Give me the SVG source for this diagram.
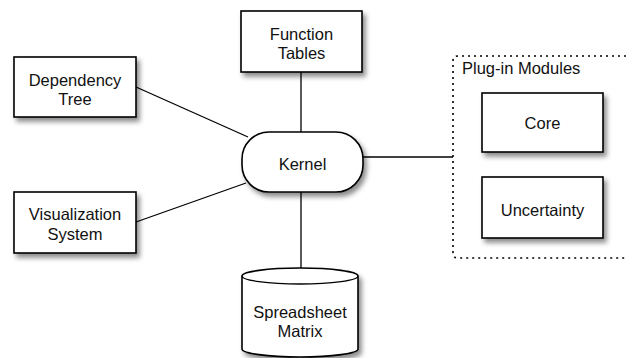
<svg xmlns="http://www.w3.org/2000/svg" width="626" height="358" viewBox="0 0 626 358">
  <defs>
    <filter id="shadow" x="-20%" y="-20%" width="150%" height="160%">
      <feDropShadow dx="3" dy="4" stdDeviation="2.5" flood-color="#000" flood-opacity="0.45"/>
    </filter>
  </defs>
  <style>
    .box { fill: #fff; stroke: #000; stroke-width: 1.6; filter: url(#shadow); }
    .edge { fill: none; stroke: #000; stroke-width: 1.3; }
    .label { font-family: "Liberation Sans", Arial, sans-serif; font-size: 16.5px; fill: #111; text-anchor: middle; }
    .group-frame { fill: none; stroke: #000; stroke-width: 1.6; stroke-dasharray: 2 4; }
  </style>
  <rect width="626" height="358" fill="#fff"/>

  <!-- connectors -->
  <g id="connectors">
    <line class="edge" x1="301" y1="72" x2="301" y2="132"/>
    <line class="edge" x1="136" y1="87" x2="248" y2="137"/>
    <line class="edge" x1="136" y1="222" x2="246" y2="183"/>
    <line class="edge" x1="301" y1="192" x2="301" y2="268"/>
    <line class="edge" x1="363" y1="157" x2="453" y2="157"/>
  </g>

  <!-- plug-in module container -->
  <g id="plugin-modules">
    <path class="group-frame" d="M 632 56 L 458 56 Q 453 56 453 61 L 453 253 Q 453 258 458 258 L 632 258"/>
    <text class="label" x="462" y="74" style="text-anchor:start">Plug-in Modules</text>
  </g>

  <g id="function-tables">
    <rect class="box" x="241" y="11" width="121" height="61"/>
    <text class="label" x="301.5" y="40">Function</text>
    <text class="label" x="301.5" y="59">Tables</text>
  </g>

  <g id="dependency-tree">
    <rect class="box" x="14" y="57" width="122" height="60"/>
    <text class="label" x="75" y="86">Dependency</text>
    <text class="label" x="75" y="105">Tree</text>
  </g>

  <g id="kernel">
    <rect class="box" x="242" y="132" width="121" height="60" rx="27" ry="27"/>
    <text class="label" x="302.5" y="170">Kernel</text>
  </g>

  <g id="visualization-system">
    <rect class="box" x="14" y="192" width="122" height="61"/>
    <text class="label" x="75" y="220">Visualization</text>
    <text class="label" x="75" y="240">System</text>
  </g>

  <g id="spreadsheet-matrix">
    <path class="box" d="M 242 276 A 58 8 0 0 1 358 276 L 358 349 A 58 8 0 0 1 242 349 Z"/>
    <path class="edge" d="M 242 276 A 58 8 0 0 0 358 276"/>
    <text class="label" x="300" y="318">Spreadsheet</text>
    <text class="label" x="300" y="337">Matrix</text>
  </g>

  <g id="core">
    <rect class="box" x="482" y="93" width="121" height="59"/>
    <text class="label" x="542.5" y="129">Core</text>
  </g>

  <g id="uncertainty">
    <rect class="box" x="482" y="177" width="121" height="61"/>
    <text class="label" x="542.5" y="216">Uncertainty</text>
  </g>
</svg>
